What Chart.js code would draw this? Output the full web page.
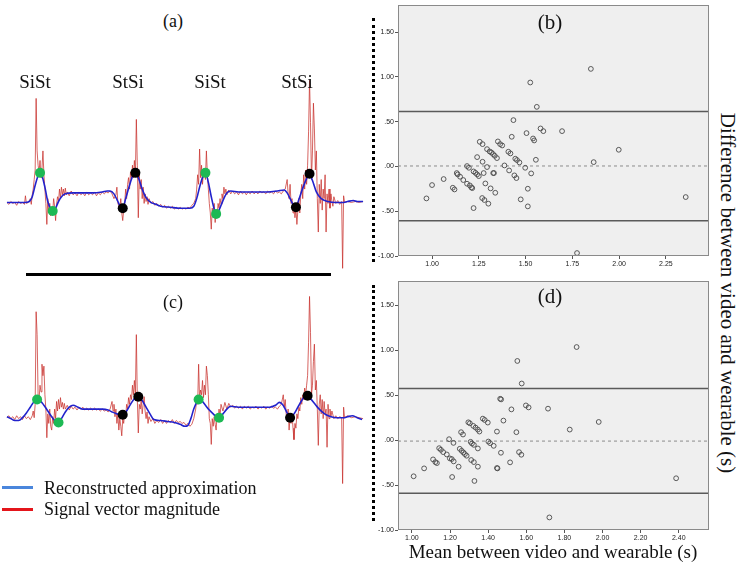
<!DOCTYPE html>
<html><head><meta charset="utf-8">
<script src="https://cdn.jsdelivr.net/npm/chart.js@4.4.1/dist/chart.umd.min.js"></script>
<style>
html,body{margin:0;padding:0;background:#fff;width:740px;height:568px;overflow:hidden;position:relative;}
canvas{position:absolute;}
.t{position:absolute;font-family:"Liberation Serif","Times New Roman",serif;color:#111;white-space:nowrap;transform:translate(-50%,-50%);line-height:1;}
.sw{position:absolute;height:3px;}
</style></head><body>
<canvas id="ca" width="370" height="220" style="left:0;top:60px"></canvas>
<canvas id="cc" width="370" height="220" style="left:0;top:280px"></canvas>
<canvas id="cb" width="344" height="270" style="left:370px;top:0"></canvas>
<canvas id="cd" width="344" height="268" style="left:370px;top:276px"></canvas>

<div class="t" style="left:173px;top:21px;font-size:18px">(a)</div>
<div class="t" style="left:173px;top:302px;font-size:18px">(c)</div>
<div class="t" style="left:550px;top:22px;font-size:21px">(b)</div>
<div class="t" style="left:550px;top:296px;font-size:21px">(d)</div>
<div class="t" style="left:35px;top:81px;font-size:19px">SiSt</div>
<div class="t" style="left:128px;top:81px;font-size:19px">StSi</div>
<div class="t" style="left:210px;top:81px;font-size:19px">SiSt</div>
<div class="t" style="left:297px;top:81px;font-size:19px">StSi</div>

<div style="position:absolute;left:26px;top:273px;width:305px;height:3px;background:#000"></div>
<div style="position:absolute;left:372px;top:18px;height:244px;border-left:3px dotted #000"></div>
<div style="position:absolute;left:372px;top:285px;height:236px;border-left:3px dotted #000"></div>

<div class="sw" style="left:2px;top:486px;width:31px;background:#4a86dc"></div>
<div class="sw" style="left:2px;top:508px;width:31px;background:#e4151b"></div>
<div class="t" style="left:44px;top:488px;font-size:18px;transform:translate(0,-50%)">Reconstructed approximation</div>
<div class="t" style="left:44px;top:509px;font-size:18px;transform:translate(0,-50%)">Signal vector magnitude</div>

<div class="t" style="left:727px;top:293px;font-size:21px;transform:translate(-50%,-50%) rotate(90deg)">Difference between video and wearable (s)</div>
<div class="t" style="left:553px;top:551px;font-size:19px">Mean between video and wearable (s)</div>

<script>
// ---------- Panel (a): sample index vs. amplitude (arbitrary units) ----------
const redA = [[2,-2],[4,-4],[6,-1],[8,-3],[10,-2],[12,-5],[14,-1],[16,-3],[18,-2],[20,-4],[21,5],[22,-3],[24,-2],[26,2],[27,-4],[28,6],[29,12],[30,22],[31,32],[32,107],[33,52],[34,37],[35,30],[36,42],[37,24],[38,34],[39,52],[40,27],[41,12],[42,-3],[43,-25],[44,2],[45,-13],[46,-3],[47,-16],[48,-8],[49,-12],[50,2],[51,-6],[52,-21],[53,-4],[54,4],[55,-1],[56,12],[57,2],[58,14],[59,6],[60,12],[61,5],[62,13],[63,6],[64,9],[66,5],[68,10],[70,6],[72,8],[74,5],[76,9],[78,6],[80,8],[82,5],[84,9],[86,6],[88,8],[90,6],[92,9],[94,5],[96,8],[98,6],[100,9],[102,7],[104,9],[106,8],[108,10],[110,7],[112,2],[114,6],[115,14],[116,-3],[118,-8],[119,2],[120,-13],[121,-21],[122,-10],[123,-3],[124,12],[125,2],[126,17],[127,24],[128,12],[129,30],[130,22],[131,37],[132,24],[133,42],[134,27],[135,85],[136,37],[137,-18],[138,27],[139,12],[140,22],[141,2],[142,14],[143,-3],[144,7],[145,-1],[146,4],[147,-4],[148,2],[150,-3],[152,-1],[154,-5],[156,-3],[158,-6],[160,-4],[162,-7],[164,-5],[166,-8],[168,-6],[170,-8],[172,-6],[174,-9],[176,-7],[178,-9],[180,-7],[182,-9],[184,-8],[186,-9],[188,-7],[190,-8],[192,-5],[194,-3],[196,2],[197,12],[198,27],[199,17],[200,54],[201,24],[202,37],[203,17],[204,30],[205,34],[206,22],[207,52],[208,27],[209,12],[210,-3],[211,-13],[212,-30],[213,-8],[214,-18],[215,-3],[216,-23],[217,-10],[218,-16],[219,-3],[220,-8],[221,2],[222,-4],[223,7],[224,2],[225,14],[226,7],[227,12],[228,6],[230,11],[232,7],[234,10],[236,7],[238,9],[240,6],[242,10],[244,7],[246,9],[248,6],[250,9],[252,7],[254,10],[256,7],[258,9],[260,7],[262,10],[264,8],[266,9],[268,7],[270,10],[272,8],[274,9],[276,7],[278,10],[280,8],[282,9],[284,7],[286,10],[288,12],[290,22],[291,7],[292,2],[293,17],[294,-3],[295,2],[296,-13],[297,-3],[298,-18],[299,-8],[300,-25],[301,-10],[302,2],[303,-13],[304,7],[305,17],[306,2],[307,27],[308,12],[309,32],[310,17],[311,37],[312,72],[313,126],[314,82],[315,22],[316,52],[317,102],[318,75],[319,32],[320,52],[321,2],[322,-33],[323,17],[324,-3],[325,22],[326,-10],[327,12],[328,2],[329,27],[330,-33],[331,7],[332,-3],[333,12],[334,-8],[335,7],[336,-1],[337,-6],[338,4],[340,-3],[342,0],[344,-4],[346,-1],[347,-71],[348,5],[349,-2],[352,-1],[356,-2],[360,-1],[364,-2],[368,-1]];
const blueA = [[2,-2],[10,-2],[20,-2],[25,-1],[28,4],[31,16],[34,26],[36,29],[38,26],[41,14],[44,-1],[47,-9],[49,-11],[52,-8],[55,-1],[59,5],[62,7],[70,8],[80,8],[90,8],[100,9],[105,10],[108,10],[112,7],[116,-1],[119,-7],[121,-8],[124,2],[128,16],[131,25],[134,29],[137,24],[141,12],[145,3],[150,-2],[155,-4],[160,-6],[170,-7],[180,-8],[190,-8],[194,-6],[197,2],[200,14],[203,24],[206,29],[209,19],[212,4],[215,-9],[217,-14],[220,-10],[224,0],[228,8],[232,10],[240,9],[250,9],[260,9],[270,9],[280,10],[287,11],[290,8],[294,0],[297,-6],[299,-7],[302,1],[306,13],[310,23],[313,28],[316,21],[320,9],[325,2],[332,-1],[340,-2],[347,-2],[352,-1],[358,0],[362,-1],[368,-1]];
const greenA = [[36,29],[49,-11],[206,29],[217,-14]];
const blackA = [[121,-8],[134,29],[299,-7],[313,28]];

// ---------- Panel (c) ----------
const redC = [[2,-1],[4,1],[6,-2],[8,0],[10,-3],[12,1],[14,-2],[16,0],[18,-3],[20,1],[22,-2],[24,0],[26,-3],[28,1],[29,6],[30,-1],[31,13],[32,110],[33,86],[34,23],[35,18],[36,33],[37,26],[38,55],[39,43],[40,53],[41,23],[42,8],[43,-22],[44,3],[45,-7],[46,8],[47,-10],[48,-14],[49,0],[50,-7],[51,8],[52,-2],[53,16],[54,6],[55,18],[56,8],[57,20],[58,10],[59,15],[60,8],[61,14],[62,8],[64,12],[66,7],[68,11],[70,8],[72,10],[74,7],[76,10],[78,8],[80,10],[82,7],[84,9],[86,7],[88,9],[90,7],[92,9],[94,7],[96,8],[98,6],[100,8],[102,6],[104,7],[106,5],[108,8],[110,16],[111,6],[112,13],[113,0],[114,8],[115,-7],[116,3],[117,-14],[118,-2],[119,-10],[120,-20],[121,-2],[122,-7],[123,5],[124,0],[125,13],[126,8],[127,20],[128,13],[129,23],[130,18],[131,33],[132,23],[133,38],[134,23],[135,86],[136,18],[137,-17],[138,13],[139,8],[140,18],[141,3],[142,13],[143,21],[144,6],[145,-2],[146,5],[147,-7],[148,0],[150,-5],[152,-2],[154,-7],[156,-4],[158,-6],[160,-3],[162,-7],[164,-4],[166,-7],[168,-4],[170,-6],[172,-3],[174,-7],[176,-4],[178,-6],[180,-5],[182,-7],[184,-6],[186,-9],[188,-7],[190,-10],[192,-8],[194,-2],[196,8],[197,18],[198,13],[199,55],[200,18],[201,28],[202,23],[203,38],[204,20],[205,33],[206,23],[207,53],[208,43],[209,23],[210,-2],[211,-7],[212,-29],[213,-2],[214,-10],[215,0],[216,-8],[217,-14],[218,3],[219,-2],[220,8],[221,0],[222,13],[224,6],[226,15],[228,8],[230,14],[232,10],[234,12],[236,9],[238,11],[240,9],[242,11],[244,8],[246,11],[248,9],[250,11],[252,8],[254,10],[256,9],[258,11],[260,8],[262,10],[264,9],[266,11],[268,8],[270,10],[272,9],[274,11],[276,9],[278,10],[280,8],[282,11],[284,13],[286,23],[287,10],[288,18],[289,3],[290,-2],[291,8],[292,-14],[293,0],[294,-7],[295,3],[296,-12],[297,-24],[298,-7],[299,-12],[300,3],[301,-2],[302,10],[303,6],[304,20],[305,13],[306,23],[307,18],[308,30],[309,23],[310,33],[311,43],[312,78],[313,126],[314,88],[315,23],[316,33],[317,58],[318,76],[319,28],[320,38],[321,8],[322,-30],[323,13],[324,23],[325,3],[326,18],[327,-2],[328,16],[329,3],[330,8],[331,-32],[332,13],[333,-2],[334,8],[335,0],[336,6],[338,-2],[340,1],[342,-2],[344,0],[346,-1],[347,-70],[348,10],[349,-1],[352,1],[356,-1],[360,0],[364,-1],[368,-2]];
const blueC = [[2,0],[6,-2],[10,-4],[14,-4],[18,-1],[22,4],[26,10],[30,16],[33,18],[36,17],[40,12],[44,6],[48,0],[52,-5],[55,-6],[58,-2],[62,5],[66,10],[70,12],[75,10],[80,8],[90,8],[100,8],[106,7],[110,5],[115,3],[121,2],[125,6],[129,13],[133,19],[137,21],[141,17],[145,10],[149,3],[153,-3],[160,-4],[167,-5],[174,-6],[180,-8],[185,-10],[188,-9],[191,-2],[194,8],[197,15],[199,18],[202,17],[206,12],[210,7],[214,3],[217,0],[220,-1],[224,3],[228,8],[232,11],[240,10],[252,10],[262,10],[272,10],[278,12],[282,15],[285,13],[288,8],[291,2],[293,-1],[297,3],[301,10],[305,17],[309,22],[311,22],[314,19],[318,14],[322,9],[326,5],[330,2],[335,0],[341,-1],[348,-1],[352,0],[357,1],[362,-1],[367,-3]];
const greenC = [[33,18],[55,-6],[199,18],[220,-1]];
const blackC = [[121,2],[137,21],[293,-1],[311,22]];

// ---------- Panel (b): Bland-Altman ----------
const bMean = [1.849,1.525,1.560,1.435,1.505,1.580,1.595,1.695,1.426,1.540,1.546,1.255,1.270,1.352,1.364,1.375,1.408,1.419,1.294,1.308,1.317,1.326,1.335,1.347,1.241,1.445,1.454,1.467,1.555,1.270,1.387,1.294,1.187,1.197,1.498,1.412,1.222,1.232,1.241,1.250,1.132,1.137,1.276,1.327,1.331,1.440,1.451,1.530,1.062,1.000,1.150,1.167,1.187,1.202,1.210,1.215,1.285,1.313,1.338,1.111,1.120,0.970,1.268,1.280,1.301,1.222,1.474,1.512,1.512,1.775,1.864,1.998,2.356];
const bDiff = [1.089,0.937,0.665,0.517,0.372,0.424,0.394,0.394,0.331,0.312,0.290,0.275,0.249,0.279,0.249,0.234,0.164,0.145,0.193,0.167,0.156,0.138,0.119,0.093,0.104,0.086,0.071,0.045,0.074,0.052,0.011,-0.007,0.004,-0.015,-0.015,-0.045,-0.056,-0.071,-0.089,-0.108,-0.074,-0.089,-0.074,-0.074,-0.074,-0.100,-0.130,-0.078,-0.141,-0.208,-0.115,-0.152,-0.193,-0.212,-0.234,-0.242,-0.190,-0.245,-0.294,-0.238,-0.257,-0.357,-0.353,-0.375,-0.416,-0.465,-0.368,-0.249,-0.446,-0.967,0.048,0.186,-0.342];
const bLines = [0.613, 0.005, -0.606];   // upper LoA, mean, lower LoA
const bXTicks = [1.00, 1.25, 1.50, 1.75, 2.00, 2.25];
const bXLabels = ['1.00','1.25','1.50','1.75','2.00','2.25'];

// ---------- Panel (d) ----------
const dMean = [1.864,1.553,1.576,1.463,1.468,1.522,1.598,1.612,1.714,1.372,1.382,1.398,1.480,1.296,1.304,1.322,1.334,1.346,1.354,1.446,1.258,1.268,1.548,1.828,1.980,1.195,1.218,1.308,1.315,1.401,1.410,1.429,1.325,1.143,1.152,1.164,1.346,1.251,1.261,1.270,1.278,1.287,1.467,1.562,1.574,1.183,1.199,1.209,1.219,1.111,1.123,1.131,1.311,1.325,1.515,1.245,1.346,1.446,1.449,1.064,1.009,1.211,1.328,2.386,1.721];
const dDiff = [1.037,0.882,0.631,0.461,0.454,0.343,0.387,0.365,0.351,0.240,0.225,0.196,0.218,0.199,0.188,0.159,0.140,0.118,0.096,0.096,0.089,0.063,0.089,0.118,0.203,0.011,-0.030,-0.018,-0.037,-0.015,-0.033,-0.063,-0.052,-0.089,-0.107,-0.133,-0.092,-0.096,-0.118,-0.137,-0.155,-0.173,-0.140,-0.133,-0.162,-0.159,-0.203,-0.210,-0.236,-0.214,-0.244,-0.255,-0.221,-0.244,-0.247,-0.295,-0.295,-0.310,-0.314,-0.314,-0.402,-0.410,-0.454,-0.424,-0.860];
const dLines = [0.576, -0.01, -0.59];
const dXTicks = [1.00, 1.20, 1.40, 1.60, 1.80, 2.00, 2.20, 2.40];
const dXLabels = ['1.00','1.20','1.40','1.60','1.80','2.00','2.20','2.40'];

const yTicks = [-1.00, -0.50, 0.00, 0.50, 1.00, 1.50];
const yLabels = ['-1.00','-.50','.00','.50','1.00','1.50'];

Chart.defaults.font.family = '"Liberation Sans", Arial, sans-serif';
Chart.defaults.animation = false;

const toXY = arr => arr.map(p => ({x: p[0], y: p[1]}));

function signalChart(id, red, blue, green, black, ymin, ymax) {
  new Chart(document.getElementById(id), {
    type: 'line',
    data: {
      datasets: [
        {data: toXY(green), showLine: false, pointRadius: 5, pointBackgroundColor: '#1db954', pointBorderColor: '#1db954', pointBorderWidth: 0, order: 0},
        {data: toXY(black), showLine: false, pointRadius: 5, pointBackgroundColor: '#000', pointBorderColor: '#000', pointBorderWidth: 0, order: 0},
        {data: toXY(blue), borderColor: '#2222cc', borderWidth: 1.6, pointRadius: 0, cubicInterpolationMode: 'monotone', order: 1},
        {data: toXY(red), borderColor: 'rgba(200,50,45,0.75)', borderWidth: 1, pointRadius: 0, tension: 0, order: 2}
      ]
    },
    options: {
      responsive: false, animation: false, events: [],
      layout: {padding: 0},
      plugins: {legend: {display: false}, tooltip: {enabled: false}},
      scales: {
        x: {type: 'linear', min: 0, max: 370, display: false},
        y: {min: ymin, max: ymax, display: false}
      }
    }
  });
}
signalChart('ca', redA, blueA, greenA, blackA, -78, 142);
signalChart('cc', redC, blueC, greenC, blackC, -82, 138);

const framePlugin = {
  id: 'frame',
  beforeDraw(c) {
    const a = c.chartArea, ctx = c.ctx;
    ctx.save(); ctx.fillStyle = '#efefef';
    ctx.fillRect(a.left, a.top, a.right - a.left, a.bottom - a.top); ctx.restore();
  },
  afterDraw(c) {
    const a = c.chartArea, ctx = c.ctx;
    ctx.save(); ctx.strokeStyle = '#8a8a8a'; ctx.lineWidth = 1;
    ctx.strokeRect(Math.round(a.left) + 0.5, Math.round(a.top) + 0.5, Math.round(a.right - a.left) - 1, Math.round(a.bottom - a.top) - 1);
    ctx.restore();
  }
};

function baChart(id, xs, ys, lines, xmin, xmax, ymax, xTicks, xLabels) {
  const pts = xs.map((x, i) => ({x: x, y: ys[i]}));
  const hl = (v) => [{x: xmin, y: v}, {x: xmax, y: v}];
  new Chart(document.getElementById(id), {
    type: 'scatter',
    data: {
      datasets: [
        {data: pts, pointRadius: 2.4, pointBorderWidth: 0.9, pointBorderColor: '#4a4a4a', pointBackgroundColor: 'rgba(0,0,0,0)', order: 0},
        {type: 'line', data: hl(lines[0]), borderColor: '#5a5a5a', borderWidth: 1.5, pointRadius: 0, order: 1},
        {type: 'line', data: hl(lines[1]), borderColor: '#8c8c8c', borderWidth: 1, borderDash: [3, 3], pointRadius: 0, order: 1},
        {type: 'line', data: hl(lines[2]), borderColor: '#5a5a5a', borderWidth: 1.5, pointRadius: 0, order: 1}
      ]
    },
    options: {
      responsive: false, animation: false, events: [],
      layout: {padding: {top: 5, right: 2, left: 0, bottom: 0}},
      plugins: {legend: {display: false}, tooltip: {enabled: false}},
      scales: {
        x: {
          type: 'linear', min: xmin, max: xmax,
          afterBuildTicks: s => { s.ticks = xTicks.map(v => ({value: v})); },
          afterFit: s => { s.height = 14; },
          ticks: {font: {size: 7}, color: '#222', padding: 1, maxRotation: 0, autoSkip: false,
                  callback: (v, i) => xLabels[i]},
          grid: {drawOnChartArea: false, drawTicks: true, tickLength: 3, color: '#555'},
          border: {display: false}
        },
        y: {
          min: -1, max: ymax,
          afterBuildTicks: s => { s.ticks = yTicks.map(v => ({value: v})); },
          afterFit: s => { s.width = 28; },
          ticks: {font: {size: 7}, color: '#222', padding: 1, autoSkip: false,
                  callback: (v, i) => yLabels[i]},
          grid: {drawOnChartArea: false, drawTicks: true, tickLength: 3, color: '#555'},
          border: {display: false}
        }
      }
    },
    plugins: [framePlugin]
  });
}
baChart('cb', bMean, bDiff, bLines, 0.818, 2.481, 1.80, bXTicks, bXLabels);
baChart('cd', dMean, dDiff, dLines, 0.927, 2.559, 1.77, dXTicks, dXLabels);
</script>
</body></html>
